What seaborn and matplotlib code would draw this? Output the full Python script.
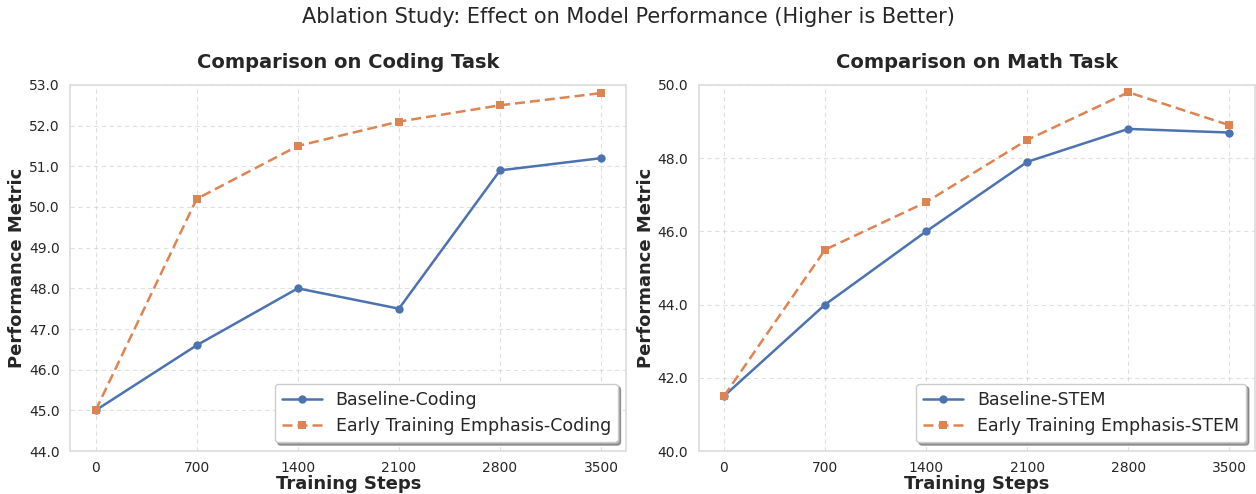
import matplotlib
matplotlib.use("Agg")
import matplotlib.pyplot as plt
import numpy as np
import pandas as pd
import seaborn as sns

# Data
steps = [0, 700, 1400, 2100, 2800, 3500]

coding_baseline = [45.0, 46.6, 48.0, 47.5, 50.9, 51.2]
coding_early = [45.0, 50.2, 51.5, 52.1, 52.5, 52.8]

math_baseline = [41.5, 44.0, 46.0, 47.9, 48.8, 48.7]
math_early = [41.5, 45.5, 46.8, 48.5, 49.8, 48.9]

panels = [
    ("Comparison on Coding Task", "Coding", coding_baseline, coding_early, (44, 53), 1.0),
    ("Comparison on Math Task", "STEM", math_baseline, math_early, (40, 50), 2.0),
]


def setup_style() -> None:
    sns.set_theme(style="whitegrid", palette="deep")
    plt.rcParams["font.family"] = ["DejaVu Sans"]


def draw_panel(ax, title, tag, baseline, early, ylim, ystep):
    df = pd.DataFrame({
        "step": steps * 2,
        "value": baseline + early,
        "series": [f"Baseline-{tag}"] * len(steps)
                  + [f"Early Training Emphasis-{tag}"] * len(steps),
    })
    colors = sns.color_palette("deep", 2)
    sns.lineplot(
        data=df, x="step", y="value", hue="series", style="series",
        markers=["o", "s"], dashes=[(None, None), (4, 2)],
        palette=colors, linewidth=1.8, markersize=6, markeredgewidth=0,
        ax=ax,
    )
    ax.set_title(title, fontsize=14, fontweight="bold", pad=12)
    ax.set_xlabel("Training Steps", fontsize=13, fontweight="bold", labelpad=0)
    ax.set_ylabel("Performance Metric", fontsize=13, fontweight="bold", labelpad=2)
    ax.set_xticks(steps)
    ax.set_ylim(*ylim)
    ax.set_yticks(np.arange(ylim[0], ylim[1] + 0.01, ystep))
    ax.yaxis.set_major_formatter(matplotlib.ticker.FormatStrFormatter("%.1f"))
    ax.tick_params(labelsize=10, pad=1.5)
    ax.grid(True, linestyle=(0, (4, 3)), linewidth=0.8, alpha=0.6)
    for s in ax.spines.values():
        s.set_color("#dddddd")
    ax.legend(loc="lower right", fontsize=12.5, frameon=True, shadow=True,
              fancybox=True, framealpha=1.0, handlelength=2.3)


setup_style()
fig, axes = plt.subplots(1, 2, figsize=(12.56, 4.94), dpi=100)
fig.subplots_adjust(left=0.056, right=0.999, top=0.828, bottom=0.087, wspace=0.13)

for ax, (title, tag, base, early, ylim, ystep) in zip(axes, panels):
    draw_panel(ax, title, tag, base, early, ylim, ystep)

fig.suptitle("Ablation Study: Effect on Model Performance (Higher is Better)",
             fontsize=15, y=0.985)

plt.savefig("out.png", dpi=100)
plt.close()
